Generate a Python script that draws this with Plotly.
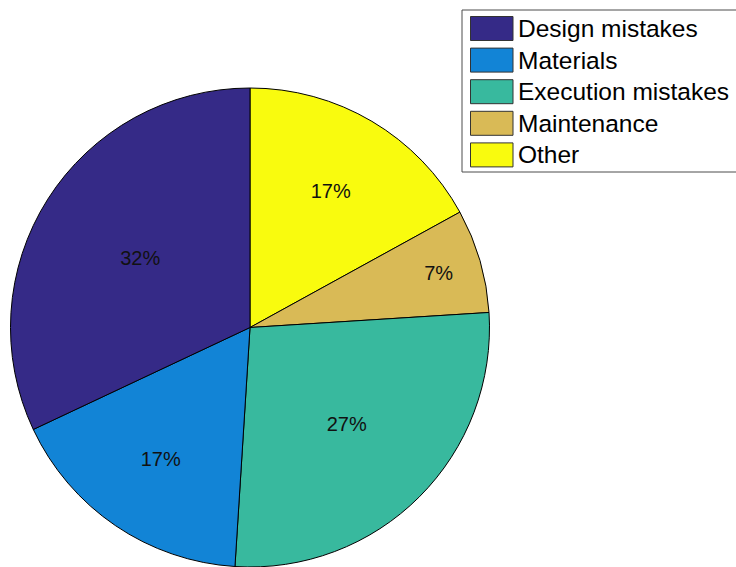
import plotly.graph_objects as go

# Causes of building defects (share, %)
categories = ["Design mistakes", "Materials", "Execution mistakes", "Maintenance", "Other"]
shares = [32, 17, 27, 7, 17]
colors = ["#352A87", "#1284D6", "#38B99E", "#D9BA56", "#F9FB0E"]

W, H = 736, 567


def px_x(x):
    return x / W


def px_y(y):
    return 1 - y / H


# Slices are laid clockwise from 12 o'clock in reverse order, so the first
# category ends up just left of the top, running counterclockwise.
fig = go.Figure()
fig.add_trace(
    go.Pie(
        labels=categories[::-1],
        values=shares[::-1],
        sort=False,
        direction="clockwise",
        rotation=0,
        marker=dict(colors=colors[::-1], line=dict(color="#000000", width=1)),
        textinfo="percent",
        texttemplate="%{percent:.0%}",
        textposition="inside",
        insidetextorientation="horizontal",
        textfont=dict(family="Liberation Sans Narrow, Arial Narrow, Liberation Sans, Arial", size=20, color="#111111"),
        hoverinfo="label+percent",
        domain=dict(x=[px_x(10.5), px_x(489.5)], y=[0, 479 / H]),
        showlegend=False,
    )
)

# Legend box with colour swatches
shapes = [
    dict(
        type="rect", xref="paper", yref="paper",
        x0=px_x(462), x1=px_x(745), y0=px_y(172), y1=px_y(10),
        line=dict(color="#4D4D4D", width=1), fillcolor="#FFFFFF", layer="above",
    )
]
annotations = []
row_top, row_step, sw_h = 16.5, 31.6, 24
for i, (name, col) in enumerate(zip(categories, colors)):
    top = row_top + i * row_step
    shapes.append(
        dict(
            type="rect", xref="paper", yref="paper",
            x0=px_x(470.5), x1=px_x(513), y0=px_y(top + sw_h), y1=px_y(top),
            line=dict(color="#333333", width=1), fillcolor=col, layer="above",
        )
    )
    annotations.append(
        dict(
            x=px_x(516), y=px_y(top + sw_h / 2), xref="paper", yref="paper",
            text=name, showarrow=False, xanchor="left", yanchor="middle",
            font=dict(family="Liberation Sans, Arial, sans-serif", size=24.5, color="#000000"),
        )
    )

fig.update_layout(
    width=W, height=H,
    margin=dict(l=0, r=0, t=0, b=0),
    paper_bgcolor="#FFFFFF",
    plot_bgcolor="#FFFFFF",
    shapes=shapes,
    annotations=annotations,
    showlegend=False,
)

fig.write_html("out.html")
